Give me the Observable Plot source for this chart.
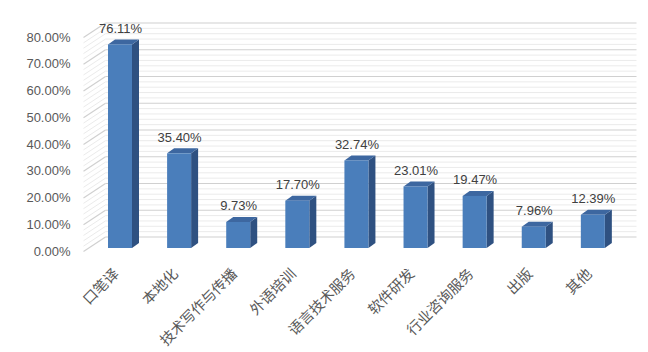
<!DOCTYPE html>
<html>
<head>
<meta charset="utf-8">
<script src="https://cdn.jsdelivr.net/npm/d3@7"></script>
<script src="https://cdn.jsdelivr.net/npm/@observablehq/plot@0.6"></script>
<style>
  html, body { margin: 0; padding: 0; background: #fff; }
  #chart { width: 648px; height: 352px; }
</style>
</head>
<body>
<div id="chart"></div>
<script>
const categories = ["口笔译", "本地化", "技术写作与传播", "外语培训", "语言技术服务", "软件研发", "行业咨询服务", "出版", "其他"];
const values = [76.11, 35.40, 9.73, 17.70, 32.74, 23.01, 19.47, 7.96, 12.39];
const yTicks = [0, 10, 20, 30, 40, 50, 60, 70, 80];
const minorTicks = [2, 4, 6, 8, 12, 14, 16, 18, 22, 24, 26, 28, 32, 34, 36, 38, 42, 44, 46, 48, 52, 54, 56, 58, 62, 64, 66, 68, 72, 74, 76, 78];

// layout (pixels)
const W = 648, H = 352;
const mL = 90.45, mR = 25.6, mT = 34, mB = 104;
const bandPx = (W - mL - mR) / categories.length;
const pxPerPct = (H - mT - mB) / 80;
const ux = p => p / bandPx;     // pixel -> x units
const uy = p => p / pxPerPct;   // pixel -> y units

const HW = ux(12);   // half front width
const DX = ux(7);    // depth x
const DY = uy(5);    // depth y
const xAt = p => -0.5 + ux(p - mL);

// back wall & side wall geometry
const wallBackDY = uy(11.5);
const wallFrontDY = uy(3);
const sideFrontX = xAt(83), sideBackX = xAt(105), backRightX = xAt(636);

const bars = values.map((v, i) => ({i, v}));
const sideData = bars.flatMap(({i, v}) => [
  {i, x: i + HW, y1: 0, y2: v},
  {i, x: i + HW + DX, y1: DY, y2: v + DY}
]);
const topData = bars.flatMap(({i, v}) => [
  {i, y: v, x1: i - HW, x2: i + HW},
  {i, y: v + DY, x1: i - HW + DX, x2: i + HW + DX}
]);

const fmt = d => d.toFixed(2) + "%";

const chart = Plot.plot({
  width: W, height: H,
  marginLeft: mL, marginRight: mR, marginTop: mT, marginBottom: mB,
  x: {type: "linear", domain: [-0.5, 8.5], axis: null},
  y: {type: "linear", domain: [0, 80], axis: null},
  style: {fontFamily: "'Liberation Sans', Arial, sans-serif", fontSize: "13px", color: "#595959", background: "#fff"},
  marks: [
    // minor gridlines (side wall + back wall)
    Plot.link(minorTicks, {x1: () => sideFrontX, x2: () => sideBackX, y1: d => d - wallFrontDY, y2: d => d + wallBackDY, stroke: "#ebebeb", strokeWidth: 1}),
    Plot.link(minorTicks, {x1: () => sideBackX, x2: () => backRightX, y1: d => d + wallBackDY, y2: d => d + wallBackDY, stroke: "#ebebeb", strokeWidth: 1}),
    // major gridlines
    Plot.link(yTicks, {x1: () => sideFrontX, x2: () => sideBackX, y1: d => d - wallFrontDY, y2: d => d + wallBackDY, stroke: "#d0d0d0", strokeWidth: 1.2}),
    Plot.link(yTicks, {x1: () => sideBackX, x2: () => backRightX, y1: d => d + wallBackDY, y2: d => d + wallBackDY, stroke: "#d0d0d0", strokeWidth: 1.2}),
    // bars: side, top, front
    Plot.area(sideData, {x1: "x", y1: "y1", y2: "y2", z: "i", fill: "#2f5181"}),
    Plot.area(topData, {x1: "x1", x2: "x2", y1: "y", z: "i", fill: "#3d67a0"}),
    Plot.rect(bars, {x1: d => d.i - HW, x2: d => d.i + HW, y1: () => 0, y2: d => d.v, fill: "#4a7ebb"}),
    // value labels
    Plot.text(bars, {x: d => d.i, y: d => d.v, dy: -12, text: d => fmt(d.v), fill: "#404040", fontSize: 13, lineAnchor: "bottom"}),
    // y axis labels
    Plot.text(yTicks, {x: () => -0.5, y: d => d, dx: 70 - mL, dy: 3, text: fmt, textAnchor: "end", fill: "#595959", fontSize: 13}),
    // category labels
    Plot.text(categories, {x: (d, i) => i, y: () => 0, dx: -4, dy: 23, rotate: -45, text: d => d, textAnchor: "end", fill: "#595959", fontSize: 14.5, fontFamily: "'Noto Sans CJK SC', sans-serif"})
  ]
});
document.getElementById("chart").appendChild(chart);
</script>
</body>
</html>
